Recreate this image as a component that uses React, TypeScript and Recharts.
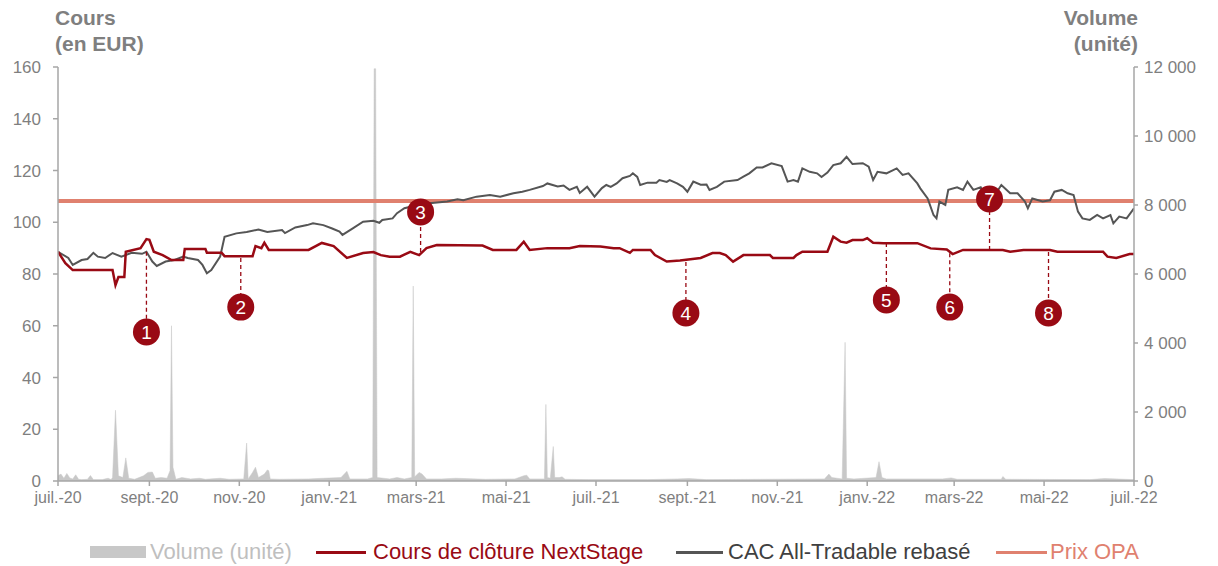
import {
  ComposedChart,
  Line,
  Area,
  XAxis,
  YAxis,
  ReferenceLine,
  ReferenceDot,
} from 'recharts';

// x values are days since 1 July 2020
const monthTicks = [0, 62, 123, 184, 243, 304, 365, 427, 488, 549, 608, 669, 730];
const monthLabels = [
  'juil.-20', 'sept.-20', 'nov.-20', 'janv.-21', 'mars-21', 'mai-21', 'juil.-21',
  'sept.-21', 'nov.-21', 'janv.-22', 'mars-22', 'mai-22', 'juil.-22',
];

const priceTicks = [0, 20, 40, 60, 80, 100, 120, 140, 160];
const volumeTicks = [0, 2000, 4000, 6000, 8000, 10000, 12000];

const prixOpa = 108.2;

const nextStageDays = [
  0, 5, 10, 37, 39, 41, 45, 46, 56, 60, 62, 65, 71, 77, 85, 86, 100, 101, 111, 113,
  132, 134, 138, 140, 143, 170, 179, 187, 196, 207, 214, 219, 225, 232, 239, 245,
  250, 257, 288, 295, 311, 316, 320, 332, 347, 354, 368, 377, 381, 388, 390, 402,
  405, 413, 422, 436, 444, 449, 453, 458, 465, 483, 485, 499, 501, 505, 522, 526,
  531, 535, 539, 546, 549, 553, 560, 583, 592, 603, 607, 614, 641, 646, 655, 673,
  678, 709, 712, 718, 727, 730,
];
const nextStageClose = [
  88.6, 84.2, 81.5, 81.5, 75.7, 78.8, 78.8, 88.6, 90, 93.5, 93.2, 88.6, 87.3, 85.4, 85.4, 89.7, 89.7, 88.2, 88.2, 86.9,
  86.9, 90.8, 90, 92.1, 89.3, 89.3, 92, 90.8, 86.2, 88.1, 88.5, 87.3, 86.7, 86.7, 88.6, 87.3,
  90, 91.2, 91, 89.3, 89.3, 92.5, 89.3, 90, 90, 90.8, 90.6, 90, 90, 88.2, 89.3, 89.3,
  87.3, 84.8, 85.2, 86.2, 88.1, 88.1, 87.3, 84.8, 87.3, 87.3, 86.2, 86.2, 87.3, 88.6, 88.6, 94.4,
  92.5, 92.1, 93.1, 93.1, 93.8, 92.1, 91.9, 91.9, 89.9, 89.5, 87.7, 89.3, 89.3, 88.6, 89.3, 89.3,
  88.6, 88.6, 86.7, 86.2, 87.7, 87.7,
];

const cacDays = [
  0, 7, 10, 16, 20, 24, 27, 32, 37, 43, 50, 57, 60, 64, 67, 73, 79, 85, 88, 95,
  98, 101, 104, 110, 113, 121, 128, 136, 142, 152, 154, 161, 169, 173, 180, 186, 191, 193,
  200, 207, 214, 218, 220, 227, 230, 235, 244, 252, 264, 271, 275, 284, 293, 300, 309, 315,
  320, 329, 332, 339, 343, 347, 352, 354, 359, 364, 369, 372, 375, 379, 383, 388, 390, 393,
  395, 400, 406, 408, 413, 415, 420, 424, 427, 431, 436, 440, 442, 447, 452, 461, 465, 469,
  474, 478, 484, 491, 495, 499, 502, 505, 510, 515, 518, 522, 526, 531, 535, 539, 546, 550,
  553, 556, 562, 569, 573, 577, 583, 585, 590, 594, 596, 598, 602, 604, 610, 614, 617, 621,
  626, 629, 634, 640, 646, 651, 656, 658, 661, 668, 673, 676, 681, 685, 689, 692, 695, 700,
  705, 709, 714, 716, 720, 725, 730,
];
const cacRebased = [
  88.6, 86.2, 83.5, 85.4, 85.8, 88.2, 86.7, 86.2, 88.1, 86.7, 88.2, 87.8, 88.6, 84.8, 83.1, 84.8, 85.4, 86.7, 86.2, 85.4,
  83.5, 80.3, 81.5, 86.7, 94.4, 95.7, 96.2, 97.2, 96.2, 97, 95.8, 98, 98.9, 99.6, 98.9, 97.6, 96.4, 95.1,
  97.6, 100.2, 100.6, 99.8, 100.9, 101.5, 103.5, 105.4, 106.7, 107.3, 108, 108.9, 108.5, 109.9, 110.5, 109.9, 111.2, 111.8,
  112.5, 114, 115, 113.8, 114.2, 112.5, 113.7, 111.3, 113.7, 109.9, 113.2, 114.4, 113.7, 115, 117, 117.9, 118.9, 117.5,
  114.4, 115.3, 115.3, 116.3, 115.6, 116.3, 115, 113.7, 111.8, 115.7, 114.5, 114.6, 112.5, 113.7, 115.7, 116.3, 117.6, 118.9,
  121.2, 121.2, 122.8, 121.7, 115.7, 116.3, 115.7, 120.8, 119.5, 118.9, 117.5, 119.2, 122.1, 122.8, 125.3, 122.5, 122.8, 121.5,
  116.3, 119.5, 118.9, 120.8, 118.3, 118.9, 115, 113.1, 109.2, 102.8, 101.5, 108, 106.7, 112.5, 113.5, 112.5, 115.7, 112.5,
  113.5, 109.9, 109.2, 114.4, 111.2, 111.2, 108, 105.4, 109.2, 108, 108.5, 111.8, 112.5, 111.2, 110.5, 104.1, 101.5, 100.9,
  102.8, 101.5, 102.8, 99.6, 102.2, 101.5, 105.4,
];

const volumeDays = [
  0, 2, 4, 6, 8, 10, 12, 14, 16, 20, 22, 24, 30, 34, 36, 37, 39, 41, 44, 46,
  48, 52, 58, 61, 64, 66, 70, 74, 76, 77, 78, 80, 84, 90, 96, 100, 110, 116, 126, 128,
  129, 132, 134, 136, 140, 142, 143, 144, 150, 170, 180, 192, 196, 198, 210, 213.5, 214.5, 215.5,
  216.5, 225, 230, 235, 240, 241, 242, 245, 247, 250, 260, 270, 290, 310, 316, 318, 320, 330,
  331, 332, 334, 336, 337, 340, 342, 344, 360, 400, 420, 428, 440, 520, 523, 525, 532, 534,
  535, 540, 555, 557, 559, 562, 600, 606, 610, 640, 641, 643, 700, 710, 730,
];
const volumeUnits = [
  150, 200, 80, 220, 90, 60, 180, 50, 40, 50, 160, 40, 40, 80, 40, 100, 2050, 150, 100, 670,
  80, 50, 150, 250, 260, 80, 100, 80, 300, 4500, 400, 50, 100, 60, 80, 50, 80, 50, 60, 1100,
  60, 250, 400, 100, 200, 320, 300, 60, 50, 60, 80, 100, 280, 60, 60, 100, 11950, 11950,
  100, 60, 100, 60, 100, 5650, 120, 250, 200, 60, 60, 80, 50, 60, 150, 170, 60, 60,
  2220, 100, 80, 1000, 100, 100, 120, 50, 40, 40, 60, 70, 40, 60, 200, 100, 60, 4020,
  80, 60, 100, 560, 100, 60, 60, 90, 50, 50, 130, 50, 40, 70, 40,
];

// numbered events: day, circle centre, end of the dashed stem on the price line
const eventDays = [60, 124, 246, 426, 562, 605, 632, 672];
const eventCircleAt = [57.6, 67.2, 104, 64.9, 70, 67.2, 109, 64.9];
const eventStemEnd = [88.6, 86.2, 88.5, 84.6, 92, 88, 89.3, 88.5];

const nextStageData = nextStageDays.map((d, i) => ({ d, v: nextStageClose[i] }));
const cacData = cacDays.map((d, i) => ({ d, v: cacRebased[i] }));
const volumeData = volumeDays.map((d, i) => ({ d, v: volumeUnits[i] }));

const RED = '#990a14';
const DARK = '#555555';
const SALMON = '#e0816f';
const VOL = '#c8c8c8';
const AXIS = '#a6a6a6';
const TEXT = '#7f7f7f';
const FONT = '"Liberation Sans", Arial, sans-serif';

const fmtVolume = (v: number) => String(v).replace(/\B(?=(\d{3})+(?!\d))/g, ' ');

const legendRow = { position: 'absolute' as const, top: 539, display: 'flex', alignItems: 'center', fontSize: 22, whiteSpace: 'nowrap' as const };

export default function App() {
  return (
    <div
      style={{
        position: 'absolute',
        left: 0,
        top: 0,
        width: 1218,
        height: 566,
        background: '#fff',
        fontFamily: FONT,
      }}
    >
      <div style={{ position: 'absolute', left: 55, top: 5, fontSize: 21, fontWeight: 'bold', color: TEXT, lineHeight: '26px' }}>
        Cours
        <br />
        (en EUR)
      </div>
      <div style={{ position: 'absolute', right: 80, top: 5, fontSize: 21, fontWeight: 'bold', color: TEXT, lineHeight: '26px', textAlign: 'right' }}>
        Volume
        <br />
        (unité)
      </div>

      <ComposedChart
        width={1218}
        height={520}
        margin={{ top: 67, right: 0, bottom: 9, left: 0 }}
        style={{ position: 'absolute', left: 0, top: 0 }}
      >
        <XAxis
          dataKey="d"
          type="number"
          domain={[0, 730]}
          ticks={monthTicks}
          tickFormatter={(v: number) => monthLabels[monthTicks.indexOf(v)] ?? ''}
          height={30}
          tickSize={5}
          tickMargin={6}
          tick={{ fontSize: 16, fill: TEXT, fontFamily: FONT }}
          stroke={AXIS}
          strokeWidth={1.5}
          allowDataOverflow
        />
        <YAxis
          yAxisId="left"
          domain={[0, 160]}
          ticks={priceTicks}
          width={58}
          tickSize={5}
          tickMargin={12}
          tick={{ fontSize: 17, fill: TEXT, fontFamily: FONT }}
          stroke={AXIS}
          strokeWidth={1.5}
        />
        <YAxis
          yAxisId="right"
          orientation="right"
          domain={[0, 12000]}
          ticks={volumeTicks}
          tickFormatter={fmtVolume}
          width={84}
          tickSize={4}
          tickMargin={6}
          tick={{ fontSize: 17, fill: TEXT, fontFamily: FONT, textAnchor: 'start' }}
          stroke={AXIS}
          strokeWidth={1.5}
        />
        <Area
          yAxisId="right"
          data={volumeData}
          dataKey="v"
          type="linear"
          fill={VOL}
          fillOpacity={1}
          stroke={VOL}
          strokeWidth={0.5}
          isAnimationActive={false}
        />
        <ReferenceLine yAxisId="left" y={prixOpa} stroke={SALMON} strokeWidth={4} />
        <Line
          yAxisId="left"
          data={cacData}
          dataKey="v"
          type="linear"
          stroke={DARK}
          strokeWidth={2}
          dot={false}
          isAnimationActive={false}
        />
        <Line
          yAxisId="left"
          data={nextStageData}
          dataKey="v"
          type="linear"
          stroke={RED}
          strokeWidth={2.5}
          dot={false}
          isAnimationActive={false}
        />
        {eventDays.map((d, i) => (
          <ReferenceLine
            key={`stem${i}`}
            yAxisId="left"
            segment={[
              { x: d, y: eventStemEnd[i] },
              { x: d, y: eventCircleAt[i] },
            ]}
            stroke={RED}
            strokeWidth={1.3}
            strokeDasharray="4 3"
          />
        ))}
        {eventDays.map((d, i) => (
          <ReferenceDot
            key={`dot${i}`}
            yAxisId="left"
            x={d}
            y={eventCircleAt[i]}
            r={13.5}
            fill={RED}
            stroke="none"
            label={{ value: String(i + 1), position: 'center', fill: '#fff', fontSize: 19, fontFamily: FONT }}
          />
        ))}
      </ComposedChart>

      <div style={{ ...legendRow, left: 90 }}>
        <div style={{ width: 56, height: 12, background: VOL, marginRight: 4 }} />
        <span style={{ color: '#bfbfbf' }}>Volume (unité)</span>
      </div>
      <div style={{ ...legendRow, left: 316 }}>
        <div style={{ width: 50, height: 3, background: RED, marginRight: 7 }} />
        <span style={{ color: RED }}>Cours de clôture NextStage</span>
      </div>
      <div style={{ ...legendRow, left: 676 }}>
        <div style={{ width: 47, height: 3, background: DARK, marginRight: 5 }} />
        <span style={{ color: '#404040' }}>CAC All-Tradable rebasé</span>
      </div>
      <div style={{ ...legendRow, left: 996 }}>
        <div style={{ width: 51, height: 3, background: SALMON, marginRight: 3 }} />
        <span style={{ color: SALMON }}>Prix OPA</span>
      </div>
    </div>
  );
}
